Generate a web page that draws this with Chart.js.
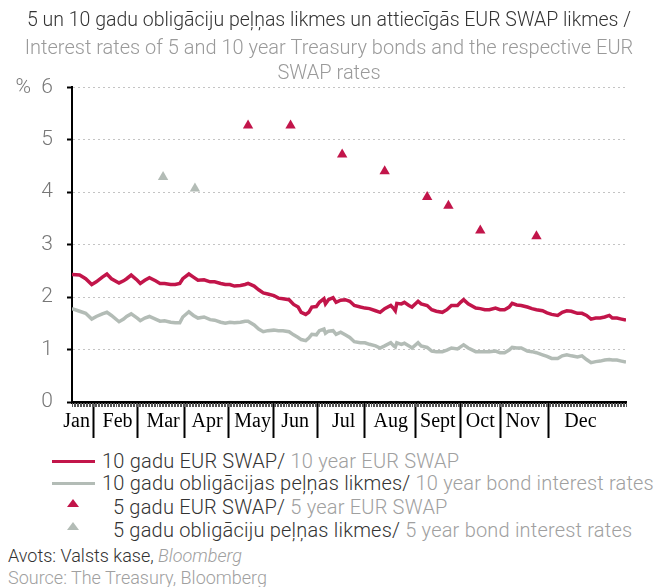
<!DOCTYPE html>
<html>
<head>
<meta charset="utf-8">
<script src="https://cdn.jsdelivr.net/npm/chart.js@4.4.0/dist/chart.umd.min.js"></script>
<style>
  body { margin: 0; width: 658px; height: 587px; background: #fff; position: relative; overflow: hidden;
         font-family: Roboto, 'Liberation Sans', sans-serif; font-weight: 300; }
  #wrap { position: absolute; left: 0; top: 0; width: 658px; height: 445px; }
  .row { position: absolute; font-size: 20px; letter-spacing: 0.2px; line-height: 22px; color: #333; white-space: nowrap; }
  .src { font-size: 18px; letter-spacing: 0; }
  .en { color: #a0a0a0; }
  .swatch { position: absolute; left: 52px; width: 43px; height: 3px; }
  .tri { position: absolute; left: 67px; width: 0; height: 0; border-left: 6px solid transparent;
         border-right: 6px solid transparent; border-bottom: 8px solid; }
</style>
</head>
<body>
<div id="wrap"><canvas id="chart" width="658" height="445"></canvas></div>

<div class="swatch" style="top:460px;background:#c2154a"></div>
<div class="row" style="left:102px;top:450px">10 gadu EUR SWAP/ <span class="en">10 year EUR SWAP</span></div>
<div class="swatch" style="top:482px;background:#b3bcb6"></div>
<div class="row" style="left:102px;top:472px">10 gadu obligācijas peļņas likmes/ <span class="en">10 year bond interest rates</span></div>
<div class="tri" style="top:499px;border-bottom-color:#c2154a"></div>
<div class="row" style="left:113px;top:496px">5 gadu EUR SWAP/ <span class="en">5 year EUR SWAP</span></div>
<div class="tri" style="top:522px;border-bottom-color:#b3bcb6"></div>
<div class="row" style="left:113px;top:519px">5 gadu obligāciju peļņas likmes/ <span class="en">5 year bond interest rates</span></div>
<div class="row src" style="left:8px;top:545px">Avots: Valsts kase, <i class="en">Bloomberg</i></div>
<div class="row src en" style="left:8px;top:567px">Source: The Treasury, Bloomberg</div>

<script>
// x values are days from the start of the period
const lineDays = [0,5,9,13,16,20,23,26,31,34,36,39,43,45,48,51,55,58,61,65,68,71,73,77,80,83,87,
  91,94,98,101,104,107,111,114,116,120,123,126,129,133,136,139,143,146,149,151,154,156,158,161,163,166,167,169,172,174,177,
  180,183,186,190,193,196,200,203,206,210,212,213,214,217,219,222,224,228,230,234,237,240,244,247,250,254,256,258,261,
  266,269,272,275,279,282,285,288,290,293,296,300,303,306,310,313,316,320,323,326,329,333,336,339,342,345,348,351,354,356,359,362,365];

const swap10 = [2.43,2.42,2.35,2.24,2.29,2.38,2.44,2.35,2.27,2.31,2.35,2.42,2.32,2.26,2.32,2.37,2.31,2.26,2.26,2.24,2.24,2.26,2.35,2.44,2.38,2.32,2.33,
  2.29,2.29,2.26,2.24,2.24,2.21,2.22,2.24,2.26,2.21,2.14,2.08,2.06,2.03,1.98,1.97,1.95,1.86,1.81,1.71,1.67,1.71,1.81,1.82,1.90,1.97,1.87,1.95,1.99,1.90,1.94,
  1.95,1.92,1.84,1.81,1.79,1.78,1.74,1.71,1.78,1.84,1.78,1.74,1.88,1.87,1.90,1.84,1.81,1.92,1.87,1.84,1.76,1.73,1.71,1.76,1.84,1.84,1.90,1.95,1.87,
  1.79,1.78,1.76,1.76,1.79,1.76,1.76,1.81,1.88,1.85,1.84,1.81,1.78,1.76,1.74,1.70,1.67,1.65,1.71,1.74,1.73,1.69,1.69,1.65,1.58,1.60,1.60,1.62,1.65,1.60,1.60,1.58,1.56];

const bond10 = [1.78,1.73,1.69,1.58,1.63,1.68,1.71,1.65,1.53,1.58,1.63,1.68,1.60,1.55,1.60,1.63,1.58,1.54,1.55,1.52,1.51,1.51,1.62,1.72,1.65,1.60,1.62,
  1.57,1.56,1.52,1.50,1.52,1.51,1.52,1.54,1.54,1.47,1.39,1.34,1.36,1.37,1.36,1.36,1.34,1.28,1.23,1.19,1.17,1.22,1.29,1.28,1.36,1.39,1.31,1.35,1.36,1.29,1.33,
  1.28,1.23,1.15,1.13,1.13,1.10,1.07,1.03,1.07,1.13,1.07,1.05,1.13,1.10,1.12,1.07,1.03,1.13,1.07,1.04,0.97,0.96,0.96,0.99,1.03,1.01,1.05,1.09,1.03,
  0.96,0.96,0.96,0.96,0.97,0.94,0.94,0.99,1.04,1.03,1.03,0.97,0.96,0.94,0.90,0.87,0.83,0.83,0.88,0.90,0.88,0.86,0.88,0.81,0.75,0.77,0.78,0.80,0.81,0.80,0.80,0.78,0.76];

const swap5Days = [116,144,178,206,234,248,269,306];
const swap5 = [5.27,5.27,4.72,4.40,3.91,3.74,3.27,3.16];
const bond5Days = [60,81];
const bond5 = [4.29,4.07];

const monthNames = ['Jan','Feb','Mar','Apr','May','Jun','Jul','Aug','Sept','Oct','Nov','Dec'];
const monthLabelDays = [3,30,60,89,119,147,179,210,241,269,297,335];
const monthBreakDays = [14,43,74,103,133,162,193,226,256,282,314];
const yTicks = [0,1,2,3,4,5,6];

const RED = '#c2154a';
const GREY = '#b3bcb6';
const FONT = 'Roboto, "Liberation Sans", sans-serif';

const pairs = (xs, ys) => xs.map((x, i) => ({ x, y: ys[i] }));

// dense little hatch marks under the date axis
const minorTicks = {
  id: 'minorTicks',
  afterDraw(chart) {
    const sx = chart.scales.x;
    const ctx = chart.ctx;
    const y0 = chart.chartArea.bottom + 1;
    ctx.save();
    ctx.strokeStyle = '#555';
    ctx.lineWidth = 1;
    for (let d = 0; d <= 365; d++) {
      const px = Math.round(sx.getPixelForValue(d)) + 0.5;
      ctx.beginPath();
      ctx.moveTo(px, y0);
      ctx.lineTo(px, y0 + 4);
      ctx.stroke();
    }
    ctx.restore();
  }
};

new Chart(document.getElementById('chart'), {
  type: 'line',
  data: {
    datasets: [
      { label: '10 gadu EUR SWAP', data: pairs(lineDays, swap10), borderColor: RED, borderWidth: 3.5, pointRadius: 0, tension: 0 },
      { label: '10 gadu obligācijas peļņas likmes', data: pairs(lineDays, bond10), borderColor: GREY, borderWidth: 3.5, pointRadius: 0, tension: 0 },
      { label: '5 gadu EUR SWAP', data: pairs(swap5Days, swap5), showLine: false, pointStyle: 'triangle',
        pointRadius: 6, pointBackgroundColor: RED, pointBorderWidth: 0 },
      { label: '5 gadu obligāciju peļņas likmes', data: pairs(bond5Days, bond5), showLine: false, pointStyle: 'triangle',
        pointRadius: 6, pointBackgroundColor: GREY, pointBorderWidth: 0 }
    ]
  },
  options: {
    responsive: false,
    animation: false,
    devicePixelRatio: 1,
    layout: { padding: 0 },
    plugins: {
      legend: { display: false },
      tooltip: { enabled: false },
      title: {
        display: true,
        text: '5 un 10 gadu obligāciju peļņas likmes un attiecīgās EUR SWAP likmes /',
        color: '#333',
        font: { family: FONT, size: 19.5, weight: '300', lineHeight: 1.3 },
        padding: { top: 8, bottom: 1 }
      },
      subtitle: {
        display: true,
        text: ['Interest rates of 5 and 10 year Treasury bonds and the respective EUR', 'SWAP rates'],
        color: '#9a9a9a',
        font: { family: FONT, size: 20, weight: '300', lineHeight: 1.26 },
        padding: { top: 2, bottom: 0.5 }
      }
    },
    scales: {
      x: {
        type: 'linear',
        min: 0,
        max: 365,
        afterBuildTicks: s => {
          s.ticks = monthBreakDays.concat(monthLabelDays).sort((a, b) => a - b).map(v => ({ value: v }));
        },
        afterFit: s => { s.height = 43; },
        border: { color: '#000', width: 3 },
        grid: {
          drawOnChartArea: false,
          tickLength: 36,
          tickWidth: 2,
          tickColor: c => monthBreakDays.includes(c.tick.value) ? '#000' : 'rgba(0,0,0,0)'
        },
        ticks: {
          autoSkip: false,
          maxRotation: 0,
          padding: -28,
          color: '#000',
          font: { family: '"Liberation Serif", serif', size: 20 },
          callback: v => {
            const i = monthLabelDays.indexOf(v);
            return i < 0 ? '' : monthNames[i];
          }
        }
      },
      y: {
        min: 0,
        max: 6,
        afterBuildTicks: s => { s.ticks = yTicks.map(v => ({ value: v })); },
        afterFit: s => { s.width = 72; },
        border: { color: '#000', width: 2, dash: [2, 3] },
        grid: {
          color: c => c.tick.value === 0 ? 'rgba(0,0,0,0)' : '#c4c4c4',
          lineWidth: 1,
          tickLength: 5,
          tickColor: '#000',
          tickWidth: 2
        },
        ticks: {
          padding: 14,
          color: '#777',
          font: { family: FONT, size: 21, weight: '300' },
          callback: v => v === 6 ? '%  6' : String(v)
        }
      },
      // empty spacer on the right so the plot ends short of the edge while the title stays centred
      spacer: {
        position: 'right',
        afterFit: s => { s.width = 32; },
        grid: { display: false, drawTicks: false },
        border: { display: false },
        ticks: { display: false }
      }
    }
  },
  plugins: [minorTicks]
});
</script>
</body>
</html>
